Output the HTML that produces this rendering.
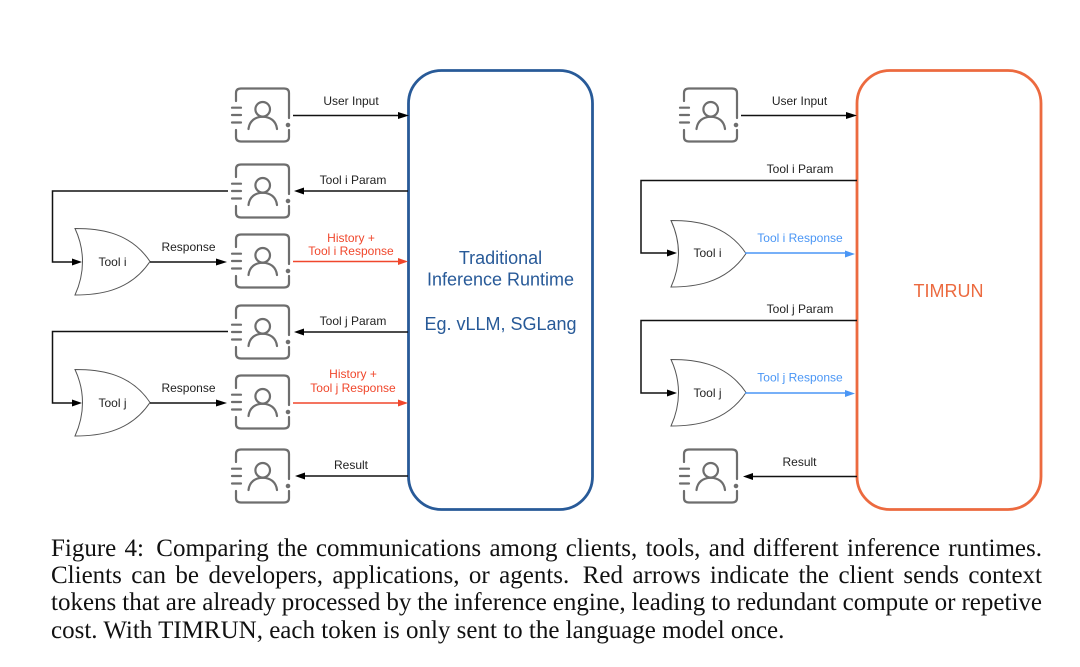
<!DOCTYPE html>
<html><head><meta charset="utf-8"><style>
html,body{margin:0;padding:0;background:#fff;width:1080px;height:667px;overflow:hidden}
svg{position:absolute;left:0;top:0}
text{font-family:"Liberation Sans",sans-serif}
.t{font-size:12px;fill:#222;text-anchor:middle}
.r{font-size:12px;fill:#f0472c;text-anchor:middle}
.b{font-size:12px;fill:#4a96f5;text-anchor:middle}
.c{position:absolute;left:51px;width:991px;font:25px/27px "Liberation Serif",serif;color:#111;white-space:nowrap;word-spacing:-4px;text-align:justify;text-align-last:justify}
.c span{margin-right:4px}
</style></head><body>
<svg width="1080" height="667" viewBox="0 0 1080 667">
<defs>
<g id="u" fill="none" stroke="#6e6e6e" stroke-width="2.2" stroke-linecap="round">
<path d="M236 101V93Q236 88.500 241 88.500H284Q289 88.500 289 93V118"/>
<path d="M236 130V137Q236 141.500 241 141.500H284Q289 141.500 289 137V130"/>
<path d="M232 107.700H241M232 115H241M232 122.500H241"/>
<circle cx="262.700" cy="109.300" r="7.300"/>
<path d="M248.500 129C249.500 121 255 116.800 262.700 116.800S276 121 277 129"/>
<circle cx="288" cy="125" r="1.200" fill="#6e6e6e"/>
</g>
<path id="g" fill="#fff" stroke="#555" stroke-width="1" d="M75 228.500C95 228.500 129 230 150 261.500C129 293 95 295 75 295C85 273 85 250 75 228.500Z"/>
</defs>

<rect x="408.500" y="70.500" width="184" height="439" rx="33" fill="none" stroke="#285a98" stroke-width="2.800"/>
<rect x="857" y="70.500" width="184" height="439" rx="33" fill="none" stroke="#ec6a3f" stroke-width="2.800"/>

<use href="#u"/>
<use href="#u" y="76"/>
<use href="#u" y="146"/>
<use href="#u" y="217"/>
<use href="#u" y="287"/>
<use href="#u" y="361"/>
<use href="#u" x="448"/>
<use href="#u" x="448" y="361"/>

<use href="#g"/>
<use href="#g" y="141"/>
<use href="#g" x="596" y="-8"/>
<use href="#g" x="596" y="131"/>

<g fill="none" stroke="#111" stroke-width="1.500">
<path d="M293 115.500H399"/>
<path d="M408 191H302"/>
<path d="M228 191H52.500V262H74"/>
<path d="M150 262H219"/>
<path d="M408 332H302"/>
<path d="M228 331.500H52.500V403H74"/>
<path d="M150 403H219"/>
<path d="M408 476H302"/>
<path d="M741 115.500H848"/>
<path d="M857 180.500H641V253H669"/>
<path d="M857 320.500H641V393H669"/>
<path d="M857 476.500H751"/>
</g>
<g fill="#000">
<path d="M409 115.500L398 112V119Z"/>
<path d="M294 191L304 187.500V194.500Z"/>
<path d="M82 262L72 258.500V265.500Z"/>
<path d="M227 262L216 258.500V265.500Z"/>
<path d="M294 332L304 328.500V335.500Z"/>
<path d="M82 403L72 399.500V406.500Z"/>
<path d="M227 403L216 399.500V406.500Z"/>
<path d="M295 476L305 472.500V479.500Z"/>
<path d="M857 115.500L846 112V119Z"/>
<path d="M677 253L667 249.500V256.500Z"/>
<path d="M677 393L667 389.500V396.500Z"/>
<path d="M743 476.500L753 473V480Z"/>
</g>
<g fill="none" stroke="#f0472c" stroke-width="1.500">
<path d="M293 261.500H400"/>
<path d="M293 403H400"/>
</g>
<path d="M408 261.500L398 258V265Z" fill="#f0472c"/>
<path d="M408 403L398 399.500V406.500Z" fill="#f0472c"/>
<g fill="none" stroke="#4a96f5" stroke-width="1.500">
<path d="M745 253H848"/>
<path d="M745 393H848"/>
</g>
<path d="M855 254L845 250.500V257.500Z" fill="#4a96f5"/>
<path d="M855 393.500L845 390V397Z" fill="#4a96f5"/>

<text class="t" x="351" y="105">User Input</text>
<text class="t" x="353" y="184">Tool i Param</text>
<text class="t" x="188.500" y="251">Response</text>
<text class="t" x="112.500" y="266">Tool i</text>
<text class="r" x="351" y="242">History +</text>
<text class="r" x="351" y="255">Tool i Response</text>
<text class="t" x="353" y="325">Tool j Param</text>
<text class="t" x="188.500" y="392">Response</text>
<text class="t" x="112.500" y="407">Tool j</text>
<text class="r" x="353" y="378">History +</text>
<text class="r" x="353" y="392">Tool j Response</text>
<text class="t" x="351" y="469">Result</text>

<text class="t" x="799.500" y="105">User Input</text>
<text class="t" x="800" y="173">Tool i Param</text>
<text class="t" x="707.500" y="257">Tool i</text>
<text class="b" x="800" y="242">Tool i Response</text>
<text class="t" x="800" y="313">Tool j Param</text>
<text class="t" x="707.500" y="397">Tool j</text>
<text class="b" x="800" y="381.500">Tool j Response</text>
<text class="t" x="799.500" y="466">Result</text>

<g font-size="18" fill="#285a98" text-anchor="middle">
<text x="500.500" y="264">Traditional</text>
<text x="500.500" y="285.500">Inference Runtime</text>
<text x="500.500" y="330">Eg. vLLM, SGLang</text>
</g>
<text x="948.500" y="297" font-size="18" fill="#ec6a3f" text-anchor="middle">TIMRUN</text>
</svg>
<div class="c" style="top:535px"><span>Figure 4:</span> Comparing the communications among clients, tools, and different inference runtimes.</div>
<div class="c" style="top:562px">Clients can be developers, applications, or <span>agents.</span> Red arrows indicate the client sends context</div>
<div class="c" style="top:589px">tokens that are already processed by the inference engine, leading to redundant compute or repetive</div>
<div class="c" style="top:617px;word-spacing:0;text-align:left;text-align-last:left">cost. With TIMRUN, each token is only sent to the language model once.</div>
</body></html>
